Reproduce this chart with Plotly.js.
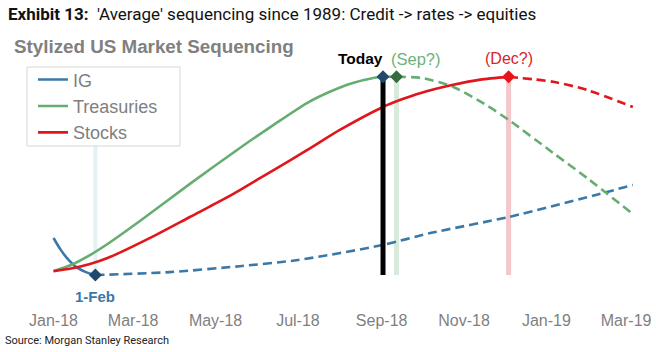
<!DOCTYPE html>
<html>
<head>
<meta charset="utf-8">
<script src="https://cdn.plot.ly/plotly-3.0.1.min.js"></script>
<style>html,body{margin:0;padding:0;background:#fff;}#chart{width:656px;height:352px;}</style>
</head>
<body>
<div id="chart"></div>
<script>
// ---- Data (stylized index, 0 = trough, 100 = peak) ----
const igSolidDates = ['2018-01-01','2018-01-06','2018-01-11','2018-01-18','2018-01-25','2018-02-01'];
const igSolidVals  = [18.7, 13.1, 8.6, 4.0, 1.5, 0];
const igDashDates  = ['2018-02-01','2018-03-28','2018-05-19','2018-07-01','2018-09-02','2018-10-07','2018-12-04','2019-02-12','2019-03-06'];
const igDashVals   = [0, 1.5, 4.5, 7.6, 15.2, 21.2, 29.3, 41.4, 45.5];

const tsySolidDates = ['2018-01-01','2018-01-14','2018-01-28','2018-02-10','2018-03-06','2018-04-12','2018-05-19','2018-06-13','2018-07-08','2018-07-25','2018-08-10','2018-08-25','2018-09-02'];
const tsySolidVals  = [2.0, 5.1, 10.1, 15.7, 27.3, 46.0, 64.1, 75.8, 86.9, 92.6, 96.8, 99.3, 100];
const tsyDashDates  = ['2018-09-02','2018-09-12','2018-09-30','2018-10-24','2018-11-18','2018-12-04','2019-01-06','2019-01-31','2019-03-06'];
const tsyDashVals   = [100, 100, 99.5, 94.9, 85.5, 78.3, 61.6, 49.0, 30.8];

const stkSolidDates = ['2018-01-01','2018-01-14','2018-01-28','2018-02-10','2018-03-18','2018-04-12','2018-05-06','2018-05-19','2018-06-13','2018-07-08','2018-08-01','2018-09-02','2018-09-15','2018-09-30','2018-10-24','2018-11-13','2018-12-04'];
const stkSolidVals  = [2.0, 3.3, 5.6, 8.6, 20.3, 29.3, 37.9, 42.9, 53.0, 63.1, 73.2, 84.8, 88.4, 91.9, 96.0, 98.6, 100];
const stkDashDates  = ['2018-12-04','2019-01-06','2019-01-31','2019-03-06'];
const stkDashVals   = [100, 97.5, 93.4, 84.8];

const feb1Date  = '2018-02-01';
const todayDate = '2018-09-02';
const sepDate   = '2018-09-12';
const decDate   = '2018-12-04';
const vlineVals = [0, 100];

const xTickLabelsFormat = '%b-%y';

// ---- Styles ----
const cBlue = '#3a78a8', cGreen = '#66ad72', cRed = '#e0161c';
const FONT = 'Liberation Sans, Arial, sans-serif';
const NARROW = 'Liberation Sans Narrow, Roboto, sans-serif';
const dashStyle = '9px,5px';

function vline(x, color, width) {
  return {x: [x, x], y: vlineVals, mode: 'lines', line: {color: color, width: width}, showlegend: false, hoverinfo: 'skip'};
}
function diamond(x, y, color) {
  return {x: [x], y: [y], mode: 'markers', marker: {symbol: 'diamond', size: 10, color: color}, showlegend: false, hoverinfo: 'skip'};
}
function curve(x, y, color, dash, name) {
  const t = {x: x, y: y, mode: 'lines', line: {color: color, width: 2.6, shape: 'spline', smoothing: 0.7}, hoverinfo: 'skip'};
  if (dash) { t.line.dash = dashStyle; t.showlegend = false; } else { t.name = name; }
  return t;
}

const traces = [
  vline(feb1Date, '#e4f1f5', 4),
  vline(sepDate, '#d8eadb', 5),
  vline(decDate, '#f5c6ca', 5),
  curve(igDashDates, igDashVals, cBlue, true),
  curve(tsyDashDates, tsyDashVals, cGreen, true),
  curve(stkDashDates, stkDashVals, cRed, true),
  Object.assign(curve(igSolidDates, igSolidVals, cBlue, false, 'IG'), {legendrank: 1}),
  Object.assign(curve(tsySolidDates, tsySolidVals, cGreen, false, 'Treasuries'), {legendrank: 2}),
  Object.assign(curve(stkSolidDates, stkSolidVals, cRed, false, 'Stocks'), {legendrank: 3}),
  vline(todayDate, '#000000', 5),
  diamond(todayDate, 100, '#1f4a6e'),
  diamond(sepDate, 100, '#366b40'),
  diamond(decDate, 100, '#e8121a'),
  diamond(feb1Date, 0, '#1f4a6e')
];

const layout = {
  width: 656, height: 352,
  margin: {l: 40, r: 11, t: 57, b: 67},
  paper_bgcolor: '#fff', plot_bgcolor: '#fff',
  font: {family: FONT},
  showlegend: true,
  legend: {
    x: -0.0314, y: 0.981, xanchor: 'left', yanchor: 'top',
    bgcolor: 'rgba(0,0,0,0)', borderwidth: 0,
    font: {family: FONT, size: 18, color: '#7f7f7f'},
    tracegroupgap: 0, indentation: 12
  },
  shapes: [
    {type: 'rect', xref: 'paper', yref: 'paper', layer: 'above',
     x0: -0.0215, x1: 0.2314, y0: 0.6096, y1: 0.9561,
     fillcolor: '#ffffff', line: {color: '#d6d6d6', width: 1}}
  ],
  xaxis: {
    type: 'date', range: ['2017-12-22', '2019-03-15'],
    tick0: '2018-01-01', dtick: 'M2', tickformat: xTickLabelsFormat,
    showgrid: false, zeroline: false, showline: false,
    ticks: 'outside', ticklen: 21, tickcolor: 'rgba(0,0,0,0)',
    tickfont: {family: FONT, size: 16, color: '#7f7f7f'}
  },
  yaxis: {range: [-5, 110], visible: false, fixedrange: true},
  annotations: [
    {xref: 'paper', yref: 'paper', x: -0.0562, y: 1.1886, xanchor: 'left', yanchor: 'middle', showarrow: false,
     text: "<b>Exhibit 13:</b>  'Average' sequencing since 1989: Credit -&gt; rates -&gt; equities",
     font: {family: NARROW, size: 17, color: '#111'}},
    {xref: 'paper', yref: 'paper', x: -0.0463, y: 1.0439, xanchor: 'left', yanchor: 'middle', showarrow: false,
     text: '<b>Stylized US Market Sequencing</b>', font: {family: FONT, size: 18.8, color: '#808080'}},
    {xref: 'x', yref: 'y', x: todayDate, y: 100, xanchor: 'right', yanchor: 'middle', yshift: 18, xshift: 2, showarrow: false,
     text: '<b>Today</b>', font: {family: FONT, size: 15.5, color: '#000'}},
    {xref: 'x', yref: 'y', x: sepDate, y: 100, xanchor: 'left', yanchor: 'middle', yshift: 18, xshift: -8, showarrow: false,
     text: '(Sep?)', font: {family: FONT, size: 16.5, color: '#6cb27a'}},
    {xref: 'x', yref: 'y', x: decDate, y: 100, xanchor: 'center', yanchor: 'middle', yshift: 18, showarrow: false,
     text: '(Dec?)', font: {family: FONT, size: 16, color: '#d9232b'}},
    {xref: 'x', yref: 'y', x: feb1Date, y: 0, xanchor: 'center', yanchor: 'middle', yshift: -21, showarrow: false,
     text: '<b>1-Feb</b>', font: {family: FONT, size: 15, color: cBlue}},
    {xref: 'paper', yref: 'paper', x: -0.0612, y: -0.2456, xanchor: 'left', yanchor: 'middle', showarrow: false,
     text: 'Source: Morgan Stanley Research', font: {family: NARROW, size: 11, color: '#222'}}
  ]
};

Plotly.newPlot('chart', traces, layout, {staticPlot: true, displayModeBar: false});
</script>
</body>
</html>
